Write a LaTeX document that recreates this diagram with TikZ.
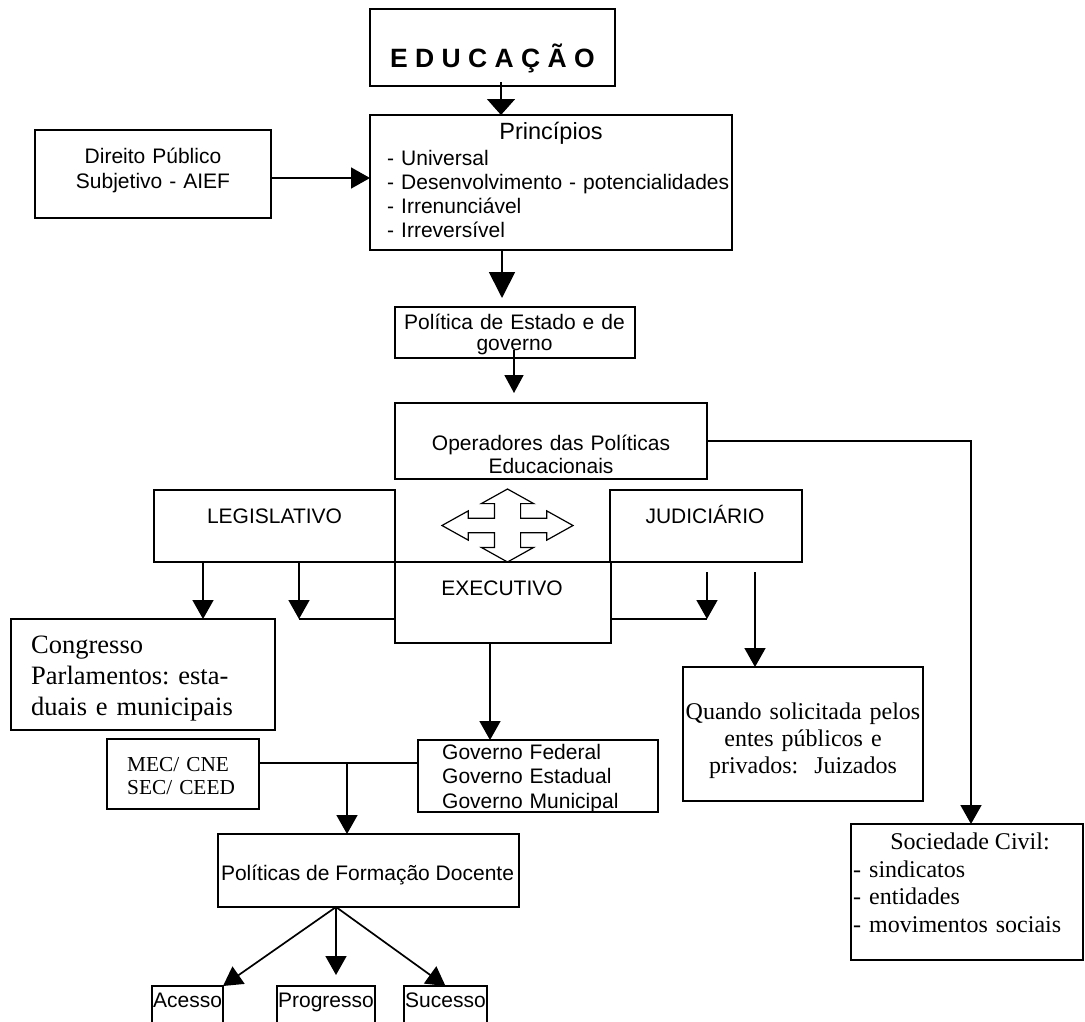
\documentclass[tikz,border=0pt]{standalone}
\usepackage{fontspec}
\setmainfont{Liberation Sans}
\newfontfamily\timesfont{Liberation Serif}
\usetikzlibrary{arrows.meta}
\frenchspacing

\begin{document}
\begin{tikzpicture}[x=1pt, y=-1pt,
	box/.style={draw, line width=1.7pt, inner sep=0pt, outer sep=0pt},
	txt/.style={inner sep=0pt, font=\fontsize{21}{24.5}\selectfont},
	rom/.style={inner sep=0pt, font=\timesfont\fontsize{24}{27.5}\selectfont},
	link/.style={line width=1.7pt},
	arr/.style={line width=1.7pt, -{Triangle[length=19pt,width=21pt]}},
	quad/.style={line width=1.2pt, line join=miter}]
			\useasboundingbox (0,0) rectangle (1085,1021);
			% boxes
			\node[box, minimum width=245pt, minimum height=77pt] at (492.5,47.5) (edu) {};
			\node[box, minimum width=362pt, minimum height=135pt] at (551,182.5) (princ) {};
			\node[box, minimum width=236pt, minimum height=88pt] at (153,174) (direito) {};
			\node[box, minimum width=240pt, minimum height=51pt] at (515,332.5) (politica) {};
			\node[box, minimum width=312pt, minimum height=76pt] at (551,441) (oper) {};
			\node[box, minimum width=241pt, minimum height=72pt] at (274.5,526) (legis) {};
			\node[box, minimum width=192pt, minimum height=72pt] at (706,526) (judi) {};
			\node[box, minimum width=216pt, minimum height=81pt] at (503,602.5) (exec) {};
			\node[box, minimum width=264pt, minimum height=111pt] at (143,674.5) (congresso) {};
			\node[box, minimum width=152pt, minimum height=70pt] at (183,774) (mec) {};
			\node[box, minimum width=240pt, minimum height=72pt] at (538,776) (gov) {};
			\node[box, minimum width=301pt, minimum height=73pt] at (368.5,870.5) (docente) {};
			\node[box, minimum width=71pt, minimum height=45pt] at (187.5,1008.5) (acesso) {};
			\node[box, minimum width=98pt, minimum height=45pt] at (326,1008.5) (progresso) {};
			\node[box, minimum width=83pt, minimum height=45pt] at (445.5,1008.5) (sucesso) {};
			\node[box, minimum width=240pt, minimum height=134pt] at (803,734) (quando) {};
			\node[box, minimum width=232pt, minimum height=136pt] at (967,892) (soc) {};
			% texts
			\node[txt, anchor=base, font=\fontsize{26.5}{30}\selectfont\bfseries] at (492.5,67) (edu-t) {E D U C A Ç Ã O};
			\node[txt, anchor=base, font=\fontsize{23.5}{26}\selectfont] at (551,139) (princ-t) {Princípios};
			\node[txt, anchor=base west, text width=345pt, align=left, font=\fontsize{21}{24}\selectfont] at (387,165) (princ-l)
				{- Universal\\- Desenvolvimento - potencialidades\\- Irrenunciável\\- Irreversível};
			\node[txt, anchor=base, text width=230pt, align=center, font=\fontsize{21}{25}\selectfont] at (153,163) (direito-t)
				{Direito Público\\Subjetivo - AIEF};
			\node[txt, anchor=base, text width=238pt, align=center, font=\fontsize{21}{21.5}\selectfont] at (514.5,329) (politica-t)
				{Política de Estado e de\\governo};
			\node[txt, anchor=base, text width=300pt, align=center, font=\fontsize{21}{23}\selectfont] at (551,450) (oper-t)
				{Operadores das Políticas\\Educacionais};
			\node[txt, anchor=base] at (274.5,523) (legis-t) {LEGISLATIVO};
			\node[txt, anchor=base] at (705,523) (judi-t) {JUDICIÁRIO};
			\node[txt, anchor=base] at (502,595) (exec-t) {EXECUTIVO};
			\node[rom, anchor=base west, text width=240pt, align=left, font=\timesfont\fontsize{26.5}{31}\selectfont] at (31,653) (congresso-t)
				{Congresso\\Parlamentos: esta-\\duais e municipais};
			\node[rom, anchor=base west, text width=130pt, align=left, font=\timesfont\fontsize{21.3}{23}\selectfont] at (127,771) (mec-t)
				{MEC/ CNE\\SEC/ CEED};
			\node[txt, anchor=base west, text width=215pt, align=left] at (442,759) (gov-t)
				{Governo Federal\\Governo Estadual\\Governo Municipal};
			\node[txt, anchor=base] at (367.5,880) (docente-t) {Políticas de Formação Docente};
			\node[txt, anchor=base] at (187.5,1007) (acesso-t) {Acesso};
			\node[txt, anchor=base] at (326,1007) (progresso-t) {Progresso};
			\node[txt, anchor=base] at (445.5,1007) (sucesso-t) {Sucesso};
			\node[rom, anchor=base, text width=236pt, align=center, font=\timesfont\fontsize{24}{27}\selectfont] at (803,719) (quando-t)
				{Quando solicitada pelos\\entes públicos e\\privados:\ \ Juizados};
			\node[rom, anchor=base] at (970,849) (soc-t) {Sociedade Civil:};
			\node[rom, anchor=base west, text width=225pt, align=left, font=\timesfont\fontsize{24}{27.7}\selectfont] at (853,877) (soc-l)
				{- sindicatos\\- entidades\\- movimentos sociais};
			% four-way arrow
			\draw[quad, shift={(507.5,525.5)}] (0,-36.5) -- (26.2,-21.9) -- (13.1,-21.9) -- (13.1,-7.3) -- (39.3,-7.3) -- (39.3,-14.6)
				-- (65.5,0) -- (39.3,14.6) -- (39.3,7.3) -- (13.1,7.3) -- (13.1,21.9) -- (26.2,21.9) -- (0,36.5)
				-- (-26.2,21.9) -- (-13.1,21.9) -- (-13.1,7.3) -- (-39.3,7.3) -- (-39.3,14.6) -- (-65.5,0)
				-- (-39.3,-14.6) -- (-39.3,-7.3) -- (-13.1,-7.3) -- (-13.1,-21.9) -- (-26.2,-21.9) -- cycle;
			% connector points
			\coordinate (e0) at (501,82);
			\coordinate (p1) at (502,298);
			\coordinate (p2) at (514,350);
			\coordinate (p3) at (514,393);
			\coordinate (l1) at (203,619);
			\coordinate (l2) at (299,619);
			\coordinate (r1t) at (707,572);
			\coordinate (r1) at (707,619);
			\coordinate (r2t) at (755,572);
			\coordinate (e1) at (490,643);
			\coordinate (m1) at (347,763);
			\coordinate (f) at (336,907);
			\coordinate (f2) at (336,975);
			% connectors
			\draw[arr, -{Triangle[length=16pt,width=28pt]}] (e0) -- (e0 |- princ.north);
			\draw[arr] ([yshift=-4pt]direito.east) -- ([yshift=-4pt]direito.east -| princ.west);
			\draw[arr, -{Triangle[length=26pt,width=26pt]}] (princ.south -| p1) -- (p1);
			\draw[arr, -{Triangle[length=18pt,width=19pt]}] (p2) -- (p3);
			\draw[arr] (oper.east) -| ([xshift=4pt]soc.north);
			\draw[arr] (legis.south -| l1) -- (l1);
			\draw[arr] (legis.south -| l2) -- (l2);
			\draw[link] (l2) -- (exec.west |- l2);
			\draw[arr] (r1t) -- (r1);
			\draw[link] (exec.east |- r1) -- (r1);
			\draw[arr] (r2t) -- (r2t |- quando.north);
			\draw[arr] (e1) -- (e1 |- gov.north);
			\draw[link] (mec.east |- m1) -- (gov.west |- m1);
			\draw[arr] (m1) -- (m1 |- docente.north);
			\draw[arr] (f) -- (acesso.north east);
			\draw[arr] (f) -- (f2);
			\draw[arr] (f) -- (sucesso.north);
\end{tikzpicture}
\end{document}
